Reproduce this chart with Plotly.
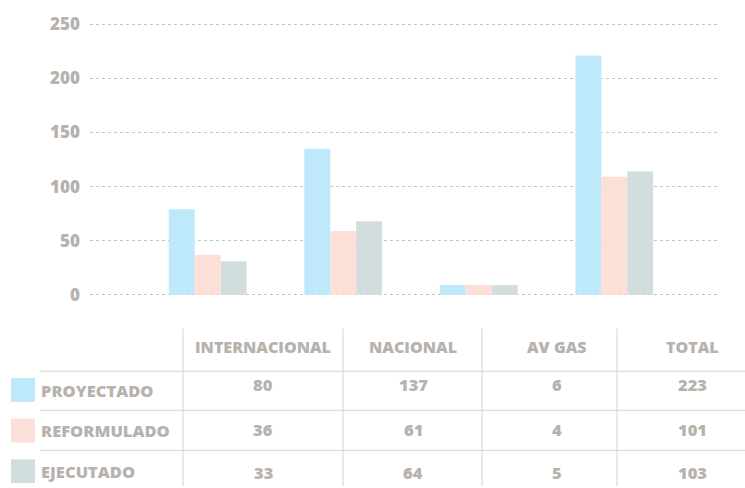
import plotly.graph_objects as go

# ---- data ----
categories = ["INTERNACIONAL", "NACIONAL", "AV GAS", "TOTAL"]
series_names = ["PROYECTADO", "REFORMULADO", "EJECUTADO"]
bar_proyectado = [79, 135, 9, 221]
bar_reformulado = [37, 59, 9, 109]
bar_ejecutado = [31, 68, 9, 114]
table_proyectado = [80, 137, 6, 223]
table_reformulado = [36, 61, 4, 101]
table_ejecutado = [33, 64, 5, 103]
y_ticks = [0, 50, 100, 150, 200, 250]

colors = ["#bde9fa", "#fcdfd6", "#d2ddde"]
text_color = "#b7b2ad"
line_color = "#d6d3d0"
FONT = "Open Sans"
WEIGHT = 800

W, H = 745, 488
L, R, T, B = 90, 27, 19, 191
PW, PH = W - L - R, H - T - B


def px(x):
    return (x - L) / PW


def py(y):
    return (H - B - y) / PH


fig = go.Figure()
for name, vals, c in zip(series_names, [bar_proyectado, bar_reformulado, bar_ejecutado], colors):
    fig.add_trace(go.Bar(x=categories, y=vals, name=name, marker=dict(color=c, line=dict(width=0)),
                         hoverinfo="x+y+name"))

shapes = []
annotations = []

# table lines
for x in [183, 343, 482, 617]:
    shapes.append(dict(type="line", xref="paper", yref="paper", x0=px(x), x1=px(x),
                       y0=py(329), y1=py(488), line=dict(color=line_color, width=1)))
for y in [372, 411.5, 452]:
    shapes.append(dict(type="line", xref="paper", yref="paper", x0=px(40), x1=px(745),
                       y0=py(y), y1=py(y), line=dict(color=line_color, width=1)))

col_centers = [263, 413, 557, 692]
for cx, cat in zip(col_centers, categories):
    annotations.append(dict(x=px(cx), y=py(348), xref="paper", yref="paper", text=cat,
                            showarrow=False, xanchor="center", yanchor="middle",
                            font=dict(family=FONT, size=16, color=text_color, weight=WEIGHT)))

label_y = [392, 432, 473]
value_y = [385, 431, 474]
swatch_y = [(379, 403), (420, 444), (461, 485)]
tables = [table_proyectado, table_reformulado, table_ejecutado]
for i, name in enumerate(series_names):
    y0, y1 = swatch_y[i]
    shapes.append(dict(type="rect", xref="paper", yref="paper", x0=px(11), x1=px(35),
                       y0=py(y1), y1=py(y0), fillcolor=colors[i], line=dict(width=0)))
    annotations.append(dict(x=px(39), y=py(label_y[i]), xref="paper", yref="paper", text=name,
                            showarrow=False, xanchor="left", yanchor="middle",
                            font=dict(family=FONT, size=16.5, color=text_color, weight=WEIGHT)))
    for cx, v in zip(col_centers, tables[i]):
        annotations.append(dict(x=px(cx), y=py(value_y[i]), xref="paper", yref="paper", text=str(v),
                                showarrow=False, xanchor="center", yanchor="middle",
                                font=dict(family=FONT, size=16.5, color=text_color, weight=WEIGHT)))

fig.update_layout(
    width=W, height=H,
    margin=dict(l=L, r=R, t=T, b=B, pad=0),
    paper_bgcolor="white", plot_bgcolor="white",
    barmode="group", bargap=0.4265, bargroupgap=0,
    showlegend=False,
    shapes=shapes, annotations=annotations,
    xaxis=dict(range=[-0.868, 3.765], showticklabels=False, showgrid=False, zeroline=False,
               showline=False, ticks="", fixedrange=True),
    yaxis=dict(range=[-2, 252], tickvals=y_ticks, showgrid=True, gridcolor="#c4c4c4",
               griddash="3px,3px", gridwidth=1, zeroline=False, showline=False, ticks="",
               ticklabelstandoff=9,
               tickfont=dict(family=FONT, size=17, color=text_color, weight=WEIGHT),
               fixedrange=True),
)

fig.write_html("out.html", config={"displayModeBar": False},
               post_script="document.body.style.margin='0';document.body.style.padding='0';")
